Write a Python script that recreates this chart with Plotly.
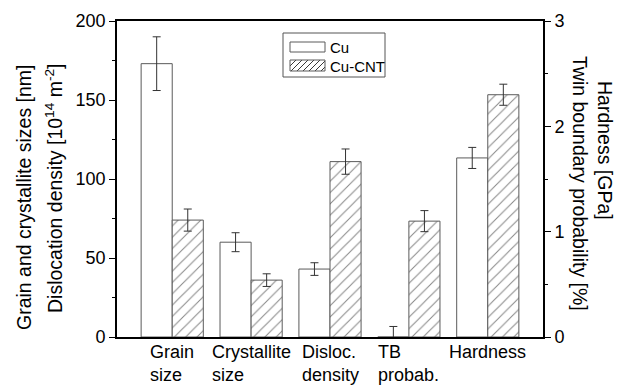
import plotly.graph_objects as go

# Categories along the x axis (first three use the left axis, last two the right axis)
categories = ["Grain<br>size", "Crystallite<br>size", "Disloc.<br>density", "TB<br>probab.", "Hardness"]
left_count = 3

# Cu (pure copper) values and standard errors
cu_values = [173, 60, 43, 0.0, 1.7]
cu_errors = [17, 6, 4, 0.1, 0.1]

# Cu-CNT composite values and standard errors
cnt_values = [74, 36, 111, 1.1, 2.3]
cnt_errors = [7, 4, 8, 0.1, 0.1]

left_ticks = [0, 50, 100, 150, 200]
right_ticks = [0, 1, 2, 3]

FONT = "Liberation Sans, Arial, sans-serif"
W, H = 620, 387
ML, MR, MT, MB = 117, 77, 21, 50
PW, PH = W - ML - MR, H - MT - MB

BAR_W = 0.394
OUTLINE = dict(color="#5a5a5a", width=1)
ERR_STYLE = dict(color="#333333", thickness=1, width=4)
HATCH = dict(shape="/", size=8, solidity=0.13, fgcolor="#111111", bgcolor="white")

xs = list(range(len(categories)))

fig = go.Figure()


def add_series(values, errors, offset, pattern, axis, idx):
    fig.add_trace(go.Bar(
        x=[xs[i] for i in idx],
        y=[values[i] for i in idx],
        error_y=dict(type="data", array=[errors[i] for i in idx], visible=True, **ERR_STYLE),
        width=BAR_W,
        offset=offset,
        marker=dict(color="white", line=OUTLINE, pattern=pattern),
        yaxis=axis,
        showlegend=False,
    ))


left_idx = list(range(left_count))
right_idx = list(range(left_count, len(categories)))

add_series(cu_values, cu_errors, -BAR_W, None, "y", left_idx)
add_series(cnt_values, cnt_errors, 0, HATCH, "y", left_idx)
add_series(cu_values, cu_errors, -BAR_W, None, "y2", right_idx)
add_series(cnt_values, cnt_errors, 0, HATCH, "y2", right_idx)

axis_common = dict(
    showline=True, linecolor="black", linewidth=1.6,
    ticks="outside", ticklen=6, tickwidth=1.2, tickcolor="black",
    showgrid=False, zeroline=False,
    tickfont=dict(family=FONT, size=18, color="black"),
)

fig.update_layout(
    width=W, height=H,
    margin=dict(l=ML, r=MR, t=MT, b=MB, pad=0),
    paper_bgcolor="white", plot_bgcolor="white",
    barmode="overlay",
    xaxis=dict(
        range=[-0.7, 4.7], showline=True, linecolor="black", linewidth=1.6,
        mirror=True, showticklabels=False, ticks="", showgrid=False, zeroline=False,
    ),
    yaxis=dict(
        range=[0, 200], tickvals=left_ticks,
        minor=dict(dtick=25, ticks="outside", ticklen=3, tickcolor="black"),
        **axis_common,
    ),
    yaxis2=dict(
        range=[0, 3], tickvals=right_ticks, overlaying="y", side="right",
        minor=dict(dtick=0.5, ticks="outside", ticklen=3, tickcolor="black"),
        **axis_common,
    ),
)


def px_x(p):
    return (p - ML) / PW


def px_y(p):
    return (MT + PH - p) / PH


# Category labels: two-line blocks, lines left-aligned, block centred on the group
for x, label in zip(xs, categories):
    fig.add_annotation(
        x=x, xref="x", y=px_y(340), yref="paper",
        text=label, showarrow=False, align="left",
        xanchor="center", yanchor="top",
        font=dict(family=FONT, size=18, color="black"),
    )

# Axis titles
title_font = dict(family=FONT, size=19.5, color="black")
fig.add_annotation(x=px_x(24), y=px_y(197), xref="paper", yref="paper",
                   text="Grain and crystallite sizes [nm]", textangle=-90,
                   showarrow=False, xanchor="center", yanchor="middle", font=title_font)
fig.add_annotation(x=px_x(54), y=px_y(188), xref="paper", yref="paper",
                   text="Dislocation density [10<sup>14</sup> m<sup>-2</sup>]", textangle=-90,
                   showarrow=False, xanchor="center", yanchor="middle", font=title_font)
fig.add_annotation(x=px_x(605), y=px_y(150), xref="paper", yref="paper",
                   text="Hardness [GPa]", textangle=90,
                   showarrow=False, xanchor="center", yanchor="middle", font=title_font)
fig.add_annotation(x=px_x(580), y=px_y(183), xref="paper", yref="paper",
                   text="Twin boundary probability [%]", textangle=90,
                   showarrow=False, xanchor="center", yanchor="middle", font=title_font)

# Legend box with swatches
box = (283, 33, 385, 77)
fig.add_shape(type="rect", xref="paper", yref="paper",
              x0=px_x(box[0]), x1=px_x(box[2]), y0=px_y(box[3]), y1=px_y(box[1]),
              line=dict(color="#555555", width=1), fillcolor="white")

sw_x0, sw_x1 = 290, 325
cu_sw = (42, 52)
cnt_sw = (60, 71)
fig.add_shape(type="rect", xref="paper", yref="paper",
              x0=px_x(sw_x0), x1=px_x(sw_x1), y0=px_y(cu_sw[1]), y1=px_y(cu_sw[0]),
              line=dict(color="#5a5a5a", width=1), fillcolor="white")

# Diagonal hatching inside the Cu-CNT swatch
top, bot = cnt_sw
hgt = bot - top
segs = []
step = 6
start = sw_x0 - hgt
while start < sw_x1:
    xa, ya = start, bot
    xb, yb = start + hgt, top
    if xa < sw_x0:
        ya = bot - (sw_x0 - xa)
        xa = sw_x0
    if xb > sw_x1:
        yb = top + (xb - sw_x1)
        xb = sw_x1
    if xb > xa:
        segs.append(f"M{px_x(xa)},{px_y(ya)} L{px_x(xb)},{px_y(yb)}")
    start += step
fig.add_shape(type="path", xref="paper", yref="paper", path=" ".join(segs),
              line=dict(color="#222222", width=0.9))
fig.add_shape(type="rect", xref="paper", yref="paper",
              x0=px_x(sw_x0), x1=px_x(sw_x1), y0=px_y(cnt_sw[1]), y1=px_y(cnt_sw[0]),
              line=dict(color="#5a5a5a", width=1), fillcolor="rgba(0,0,0,0)")

legend_font = dict(family=FONT, size=15, color="black")
fig.add_annotation(x=px_x(328), y=px_y(47), xref="paper", yref="paper", text="Cu",
                   showarrow=False, xanchor="left", yanchor="middle", font=legend_font)
fig.add_annotation(x=px_x(328), y=px_y(66), xref="paper", yref="paper", text="Cu-CNT",
                   showarrow=False, xanchor="left", yanchor="middle", font=legend_font)

fig.write_html("out.html")
